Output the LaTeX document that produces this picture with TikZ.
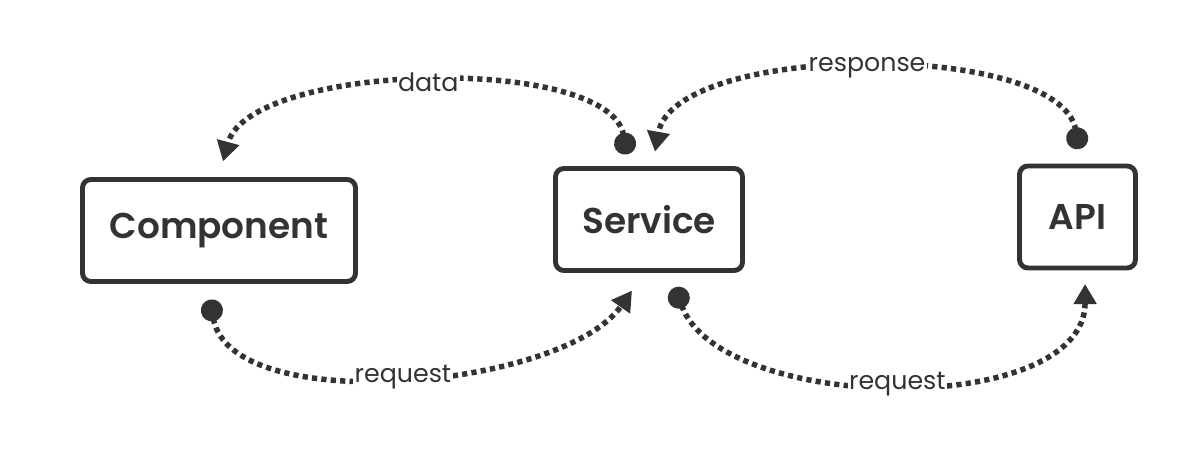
\documentclass[tikz,border=0pt]{standalone}
\usepackage{tikz}
\usetikzlibrary{arrows.meta,positioning,calc}
\usepackage{fontspec}
\setmainfont{Poppins}[BoldFont={Poppins SemiBold}]
\usepackage{xcolor}
\definecolor{ink}{HTML}{333333}

\begin{document}
\begin{tikzpicture}[
  box/.style={rectangle, rounded corners=6pt, draw=ink, line width=3.5pt, fill=white, minimum height=2.55cm, align=center, text=ink, font=\fontsize{25.5}{30}\selectfont\bfseries},
  flow/.style={draw=ink, line width=3.9pt, dash pattern=on 3.7pt off 3pt, {Circle[length=0.55cm]}-{Triangle[length=0.5cm, width=0.55cm]}},
  lbl/.style={fill=white, inner sep=1pt, text=ink, font=\fontsize{18}{21}\selectfont}
]
  \useasboundingbox (0,0) rectangle (30,11.525);
  \node[box, minimum width=6.825cm] (comp) at (5.475, 5.7625) {Component};
  \node[box, minimum width=4.675cm] (svc) at (16.225, 6.0375) {Service};
  \node[box, minimum width=2.9cm] (api) at (26.9375, 6.1) {API};
  % upper connectors
  \draw[flow] ($(svc.north)+(-0.55,0.29)$) to[out=100, in=75, looseness=0.65] node[lbl, midway] {data} ($(comp.north)+(0.1,0.39)$);
  \draw[flow] ($(api.north)+(0.04,0.36)$) to[out=100, in=80, looseness=0.67] node[lbl, midway] {response} ($(svc.north)+(0.15,0.36)$);
  % lower connectors
  \draw[flow] ($(comp.south)+(-0.225,-0.39)$) to[out=-80, in=-125, looseness=0.73] node[lbl, midway] {request} ($(svc.south)+(-0.425,-0.44)$);
  \draw[flow] ($(svc.south)+(0.65,-0.36)$) to[out=-70, in=-90, looseness=0.84] node[lbl, midway] {request} ($(api.south)+(0.19,-0.34)$);
\end{tikzpicture}
\end{document}
